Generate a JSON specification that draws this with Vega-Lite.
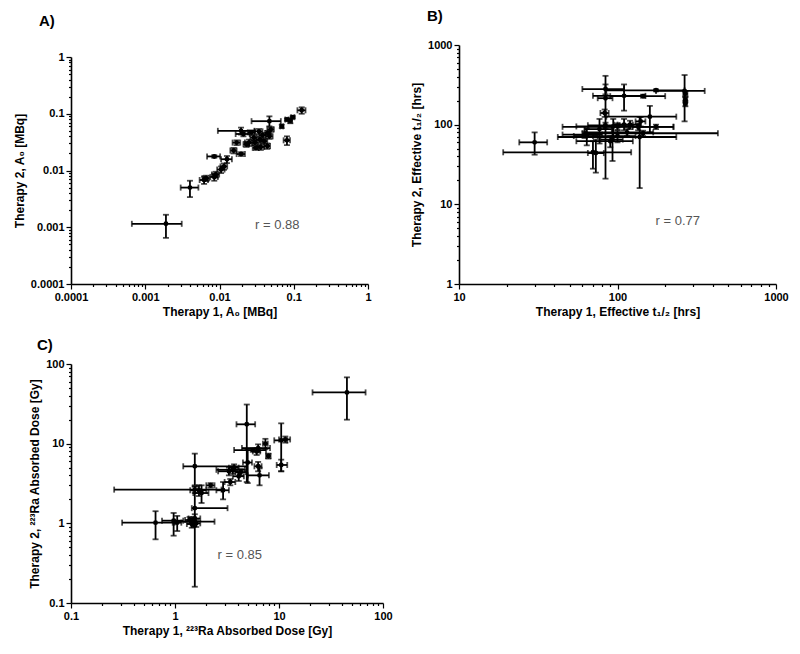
{
"$schema": "https://vega.github.io/schema/vega-lite/v6.json",
"background": "white",
"padding": {"left": 13, "top": 9, "right": 5, "bottom": 5},
"config": {
  "view": {"stroke": null},
  "font": "Liberation Sans",
  "axis": {"grid": false, "domainColor": "black", "domainWidth": 1.6, "tickColor": "black", "tickWidth": 1.2, "labelFont": "Liberation Sans", "labelFontWeight": "bold", "labelFontSize": 11, "labelColor": "black", "labelFlush": false, "labelOverlap": false, "titleFont": "Liberation Sans", "titleFontWeight": "bold", "titleFontSize": 12, "titleColor": "black", "format": "~g",
    "tickSize": {"condition": {"test": "abs(log(datum.value)/LN10 - round(log(datum.value)/LN10)) < 0.01", "value": 5}, "value": 2.5},
    "labelExpr": "abs(log(datum.value)/LN10 - round(log(datum.value)/LN10)) < 0.01 ? datum.label : ''"},
  "title": {"font": "Liberation Sans", "fontSize": 15, "fontWeight": "bold", "color": "black", "anchor": "start", "frame": "group"}
},
"datasets": {
  "A": [
    {"x":0.0019,"xlo":0.00066,"xhi":0.0031,"y":0.00115,"ylo":0.00065,"yhi":0.00166},
    {"x":0.004,"xlo":0.003,"xhi":0.0052,"y":0.005,"ylo":0.0034,"yhi":0.0066},
    {"x":0.0062,"xlo":0.0054,"xhi":0.007,"y":0.0068,"ylo":0.0058,"yhi":0.0078},
    {"x":0.0066,"xlo":0.0059,"xhi":0.0073,"y":0.0073,"ylo":0.0065,"yhi":0.0081},
    {"x":0.0085,"xlo":0.0075,"xhi":0.0095,"y":0.0077,"ylo":0.0066,"yhi":0.0088},
    {"x":0.0089,"xlo":0.0079,"xhi":0.0099,"y":0.0085,"ylo":0.0075,"yhi":0.0095},
    {"x":0.0105,"xlo":0.0093,"xhi":0.0117,"y":0.0104,"ylo":0.009,"yhi":0.0118},
    {"x":0.0115,"xlo":0.0103,"xhi":0.0127,"y":0.0118,"ylo":0.0103,"yhi":0.0133},
    {"x":0.0126,"xlo":0.0105,"xhi":0.0147,"y":0.0158,"ylo":0.0135,"yhi":0.018},
    {"x":0.0085,"xlo":0.0068,"xhi":0.0102,"y":0.0177,"ylo":0.0168,"yhi":0.0186},
    {"x":0.0155,"xlo":0.014,"xhi":0.017,"y":0.0225,"ylo":0.02,"yhi":0.025},
    {"x":0.0195,"xlo":0.017,"xhi":0.022,"y":0.0195,"ylo":0.018,"yhi":0.021},
    {"x":0.0195,"xlo":0.0095,"xhi":0.0295,"y":0.05,"ylo":0.043,"yhi":0.057},
    {"x":0.047,"xlo":0.027,"xhi":0.067,"y":0.074,"ylo":0.06,"yhi":0.09},
    {"x":0.021,"xlo":0.0165,"xhi":0.0255,"y":0.044,"ylo":0.04,"yhi":0.048},
    {"x":0.025,"xlo":0.022,"xhi":0.028,"y":0.031,"ylo":0.027,"yhi":0.035},
    {"x":0.029,"xlo":0.026,"xhi":0.032,"y":0.038,"ylo":0.034,"yhi":0.042},
    {"x":0.034,"xlo":0.03,"xhi":0.038,"y":0.049,"ylo":0.044,"yhi":0.054},
    {"x":0.036,"xlo":0.032,"xhi":0.04,"y":0.026,"ylo":0.023,"yhi":0.029},
    {"x":0.04,"xlo":0.036,"xhi":0.044,"y":0.033,"ylo":0.03,"yhi":0.036},
    {"x":0.047,"xlo":0.042,"xhi":0.052,"y":0.04,"ylo":0.036,"yhi":0.044},
    {"x":0.049,"xlo":0.044,"xhi":0.054,"y":0.053,"ylo":0.048,"yhi":0.058},
    {"x":0.031,"xlo":0.028,"xhi":0.034,"y":0.025,"ylo":0.023,"yhi":0.027},
    {"x":0.027,"xlo":0.024,"xhi":0.03,"y":0.047,"ylo":0.043,"yhi":0.051},
    {"x":0.023,"xlo":0.021,"xhi":0.025,"y":0.029,"ylo":0.026,"yhi":0.032},
    {"x":0.044,"xlo":0.04,"xhi":0.048,"y":0.027,"ylo":0.024,"yhi":0.03},
    {"x":0.035,"xlo":0.031,"xhi":0.039,"y":0.035,"ylo":0.031,"yhi":0.039},
    {"x":0.017,"xlo":0.015,"xhi":0.019,"y":0.031,"ylo":0.028,"yhi":0.034},
    {"x":0.069,"xlo":0.066,"xhi":0.072,"y":0.06,"ylo":0.056,"yhi":0.064},
    {"x":0.081,"xlo":0.073,"xhi":0.089,"y":0.034,"ylo":0.028,"yhi":0.04},
    {"x":0.081,"xlo":0.077,"xhi":0.085,"y":0.079,"ylo":0.075,"yhi":0.083},
    {"x":0.09,"xlo":0.085,"xhi":0.095,"y":0.075,"ylo":0.068,"yhi":0.082},
    {"x":0.097,"xlo":0.092,"xhi":0.102,"y":0.087,"ylo":0.083,"yhi":0.091},
    {"x":0.128,"xlo":0.112,"xhi":0.144,"y":0.115,"ylo":0.1,"yhi":0.13},
    {"x":0.045,"xlo":0.041,"xhi":0.049,"y":0.046,"ylo":0.042,"yhi":0.05},
    {"x":0.038,"xlo":0.034,"xhi":0.042,"y":0.042,"ylo":0.038,"yhi":0.046},
    {"x":0.03,"xlo":0.027,"xhi":0.033,"y":0.031,"ylo":0.028,"yhi":0.034}
  ],
  "B": [
    {"x":30,"xlo":24,"xhi":36,"y":60,"ylo":42,"yhi":80},
    {"x":70,"xlo":19,"xhi":122,"y":45,"ylo":28,"yhi":62},
    {"x":73,"xlo":65,"xhi":82,"y":44,"ylo":25,"yhi":65},
    {"x":84,"xlo":75,"xhi":93,"y":215,"ylo":21,"yhi":410},
    {"x":84,"xlo":60,"xhi":110,"y":280,"ylo":240,"yhi":320},
    {"x":110,"xlo":70,"xhi":150,"y":230,"ylo":150,"yhi":320},
    {"x":145,"xlo":90,"xhi":200,"y":228,"ylo":218,"yhi":238},
    {"x":175,"xlo":85,"xhi":265,"y":270,"ylo":262,"yhi":278},
    {"x":265,"xlo":175,"xhi":355,"y":265,"ylo":110,"yhi":420},
    {"x":268,"xlo":260,"xhi":276,"y":245,"ylo":225,"yhi":265},
    {"x":268,"xlo":262,"xhi":274,"y":205,"ylo":190,"yhi":220},
    {"x":268,"xlo":262,"xhi":274,"y":185,"ylo":170,"yhi":200},
    {"x":83,"xlo":78,"xhi":88,"y":140,"ylo":125,"yhi":155},
    {"x":160,"xlo":85,"xhi":235,"y":126,"ylo":80,"yhi":172},
    {"x":138,"xlo":42,"xhi":235,"y":70,"ylo":16,"yhi":125},
    {"x":135,"xlo":45,"xhi":226,"y":94,"ylo":85,"yhi":103},
    {"x":175,"xlo":125,"xhi":225,"y":94,"ylo":88,"yhi":100},
    {"x":94,"xlo":55,"xhi":135,"y":95,"ylo":72,"yhi":118},
    {"x":77,"xlo":62,"xhi":92,"y":88,"ylo":58,"yhi":118},
    {"x":64,"xlo":53,"xhi":75,"y":72,"ylo":55,"yhi":90},
    {"x":62,"xlo":45,"xhi":80,"y":75,"ylo":68,"yhi":82},
    {"x":110,"xlo":95,"xhi":125,"y":100,"ylo":85,"yhi":118},
    {"x":115,"xlo":62,"xhi":168,"y":80,"ylo":72,"yhi":88},
    {"x":93,"xlo":78,"xhi":108,"y":65,"ylo":35,"yhi":95},
    {"x":145,"xlo":60,"xhi":430,"y":78,"ylo":72,"yhi":84},
    {"x":90,"xlo":55,"xhi":125,"y":62,"ylo":52,"yhi":72},
    {"x":100,"xlo":82,"xhi":118,"y":95,"ylo":86,"yhi":104},
    {"x":120,"xlo":100,"xhi":140,"y":100,"ylo":88,"yhi":112},
    {"x":84,"xlo":65,"xhi":103,"y":98,"ylo":90,"yhi":106},
    {"x":140,"xlo":130,"xhi":150,"y":110,"ylo":95,"yhi":125},
    {"x":100,"xlo":70,"xhi":130,"y":72,"ylo":60,"yhi":84}
  ],
  "C": [
    {"x":45,"xlo":21,"xhi":68,"y":44,"ylo":20,"yhi":68},
    {"x":4.9,"xlo":3.9,"xhi":5.9,"y":17.5,"ylo":3.3,"yhi":31},
    {"x":10.5,"xlo":9,"xhi":12,"y":11,"ylo":4.5,"yhi":18},
    {"x":10.5,"xlo":9.5,"xhi":12,"y":5.4,"ylo":4.5,"yhi":6.3},
    {"x":11.5,"xlo":10,"xhi":12.8,"y":11.3,"ylo":10.3,"yhi":12.3},
    {"x":7.4,"xlo":7,"xhi":7.8,"y":10,"ylo":8.5,"yhi":11.5},
    {"x":6.3,"xlo":4.4,"xhi":8.2,"y":8.8,"ylo":7.8,"yhi":9.8},
    {"x":6.1,"xlo":5.6,"xhi":6.6,"y":8,"ylo":7.2,"yhi":8.8},
    {"x":7.9,"xlo":7.5,"xhi":8.3,"y":7,"ylo":6.5,"yhi":7.5},
    {"x":6.5,"xlo":5,"xhi":8,"y":4,"ylo":3,"yhi":5},
    {"x":6.3,"xlo":5.8,"xhi":6.8,"y":5.2,"ylo":4.5,"yhi":5.9},
    {"x":5.6,"xlo":3.7,"xhi":7.5,"y":8.3,"ylo":7.9,"yhi":8.7},
    {"x":1.55,"xlo":1.2,"xhi":4.9,"y":5.2,"ylo":3,"yhi":7.5},
    {"x":1.55,"xlo":1.45,"xhi":3.2,"y":1.55,"ylo":0.16,"yhi":2.9},
    {"x":1.55,"xlo":0.26,"xhi":2.8,"y":2.65,"ylo":2.4,"yhi":2.9},
    {"x":1.7,"xlo":1.4,"xhi":2,"y":2.6,"ylo":2.2,"yhi":3},
    {"x":1.8,"xlo":1.5,"xhi":2.1,"y":2.4,"ylo":1.8,"yhi":3},
    {"x":2.2,"xlo":2,"xhi":2.4,"y":3,"ylo":2.8,"yhi":3.2},
    {"x":2.9,"xlo":2.5,"xhi":3.3,"y":2.6,"ylo":2,"yhi":3.3},
    {"x":3.4,"xlo":3,"xhi":3.8,"y":3.3,"ylo":3,"yhi":3.6},
    {"x":3.3,"xlo":2.6,"xhi":4,"y":4.5,"ylo":4,"yhi":5},
    {"x":3.7,"xlo":3.3,"xhi":4.1,"y":5,"ylo":4.5,"yhi":5.5},
    {"x":4.3,"xlo":3.8,"xhi":4.8,"y":4.4,"ylo":4,"yhi":4.8},
    {"x":3.6,"xlo":2.5,"xhi":4.7,"y":4.7,"ylo":4.2,"yhi":5.2},
    {"x":4.1,"xlo":3.6,"xhi":4.6,"y":3.9,"ylo":3.4,"yhi":4.4},
    {"x":5,"xlo":4.5,"xhi":5.5,"y":5.8,"ylo":3.2,"yhi":8.4},
    {"x":0.65,"xlo":0.31,"xhi":0.99,"y":1.02,"ylo":0.63,"yhi":1.42},
    {"x":0.97,"xlo":0.75,"xhi":1.2,"y":1.08,"ylo":0.7,"yhi":1.35},
    {"x":1.05,"xlo":0.95,"xhi":1.15,"y":1.02,"ylo":0.8,"yhi":1.24},
    {"x":1.38,"xlo":1.25,"xhi":1.5,"y":1.1,"ylo":1,"yhi":1.2},
    {"x":1.5,"xlo":1,"xhi":2.4,"y":1.05,"ylo":0.9,"yhi":1.2},
    {"x":1.6,"xlo":1.45,"xhi":1.75,"y":1,"ylo":0.9,"yhi":1.1},
    {"x":1.45,"xlo":1.3,"xhi":1.6,"y":0.98,"ylo":0.88,"yhi":1.08},
    {"x":1.55,"xlo":1.35,"xhi":1.75,"y":1.15,"ylo":1,"yhi":1.3}
  ]
},
"spacing": 21,
"vconcat": [
  {
    "spacing": 38,
    "hconcat": [
      {
        "width": 297, "height": 239,
        "title": {"text": "A)", "dx": -32, "offset": 16},
        "data": {"name": "A"},
        "layer": [
          {"mark": {"type": "errorbar", "thickness": 1.8, "color": "black", "ticks": {"size": 6, "thickness": 1.8}},
           "encoding": {
             "x": {"field": "x", "type": "quantitative", "title": "Therapy 1, A₀ [MBq]", "scale": {"type": "log", "domain": [0.0001, 1], "nice": false}, "axis": {"title": "Therapy 1, A₀ [MBq]", "values": [0.0001,0.0002,0.0003,0.0004,0.0005,0.0006,0.0007,0.0008,0.0009,0.001,0.002,0.003,0.004,0.005,0.006,0.007,0.008,0.009,0.01,0.02,0.03,0.04,0.05,0.06,0.07,0.08,0.09,0.1,0.2,0.3,0.4,0.5,0.6,0.7,0.8,0.9,1]}},
             "y": {"field": "ylo", "type": "quantitative", "title": "Therapy 2, A₀ [MBq]", "scale": {"type": "log", "domain": [0.0001, 1], "nice": false, "range": [239, 12]}, "axis": {"title": "Therapy 2, A₀ [MBq]", "values": [0.0001,0.0002,0.0003,0.0004,0.0005,0.0006,0.0007,0.0008,0.0009,0.001,0.002,0.003,0.004,0.005,0.006,0.007,0.008,0.009,0.01,0.02,0.03,0.04,0.05,0.06,0.07,0.08,0.09,0.1,0.2,0.3,0.4,0.5,0.6,0.7,0.8,0.9,1]}},
             "y2": {"field": "yhi"}
           }},
          {"mark": {"type": "errorbar", "thickness": 1.8, "color": "black", "ticks": {"size": 6, "thickness": 1.8}},
           "encoding": {
             "x": {"field": "xlo", "type": "quantitative", "title": "Therapy 1, A₀ [MBq]"},
             "x2": {"field": "xhi"},
             "y": {"field": "y", "type": "quantitative", "title": "Therapy 2, A₀ [MBq]"}
           }},
          {"mark": {"type": "circle", "color": "black", "size": 24, "opacity": 1},
           "encoding": {
             "x": {"field": "x", "type": "quantitative", "title": "Therapy 1, A₀ [MBq]"},
             "y": {"field": "y", "type": "quantitative", "title": "Therapy 2, A₀ [MBq]"}
           }},
          {"data": {"values": [{"x": 0.06, "y": 0.0011, "t": "r = 0.88"}]},
           "mark": {"type": "text", "color": "#555555", "fontSize": 13, "font": "Liberation Sans"},
           "encoding": {
             "x": {"field": "x", "type": "quantitative", "title": "Therapy 1, A₀ [MBq]"},
             "y": {"field": "y", "type": "quantitative", "title": "Therapy 2, A₀ [MBq]"},
             "text": {"field": "t"}
           }}
        ]
      },
      {
        "width": 317, "height": 239,
        "title": {"text": "B)", "dx": -32, "offset": 15},
        "data": {"name": "B"},
        "layer": [
          {"mark": {"type": "errorbar", "thickness": 1.8, "color": "black", "ticks": {"size": 6, "thickness": 1.8}},
           "encoding": {
             "x": {"field": "x", "type": "quantitative", "title": "Therapy 1, Effective t₁/₂  [hrs]", "scale": {"type": "log", "domain": [10, 1000], "nice": false}, "axis": {"title": "Therapy 1, Effective t₁/₂  [hrs]", "values": [10,20,30,40,50,60,70,80,90,100,200,300,400,500,600,700,800,900,1000]}},
             "y": {"field": "ylo", "type": "quantitative", "title": "Therapy 2, Effective t₁/₂  [hrs]", "scale": {"type": "log", "domain": [1, 1000], "nice": false}, "axis": {"title": "Therapy 2, Effective t₁/₂  [hrs]", "values": [1,2,3,4,5,6,7,8,9,10,20,30,40,50,60,70,80,90,100,200,300,400,500,600,700,800,900,1000]}},
             "y2": {"field": "yhi"}
           }},
          {"mark": {"type": "errorbar", "thickness": 1.8, "color": "black", "ticks": {"size": 6, "thickness": 1.8}},
           "encoding": {
             "x": {"field": "xlo", "type": "quantitative", "title": "Therapy 1, Effective t₁/₂  [hrs]"},
             "x2": {"field": "xhi"},
             "y": {"field": "y", "type": "quantitative", "title": "Therapy 2, Effective t₁/₂  [hrs]"}
           }},
          {"mark": {"type": "circle", "color": "black", "size": 24, "opacity": 1},
           "encoding": {
             "x": {"field": "x", "type": "quantitative", "title": "Therapy 1, Effective t₁/₂  [hrs]"},
             "y": {"field": "y", "type": "quantitative", "title": "Therapy 2, Effective t₁/₂  [hrs]"}
           }},
          {"data": {"values": [{"x": 240, "y": 6.2, "t": "r = 0.77"}]},
           "mark": {"type": "text", "color": "#555555", "fontSize": 13, "font": "Liberation Sans"},
           "encoding": {
             "x": {"field": "x", "type": "quantitative", "title": "Therapy 1, Effective t₁/₂  [hrs]"},
             "y": {"field": "y", "type": "quantitative", "title": "Therapy 2, Effective t₁/₂  [hrs]"},
             "text": {"field": "t"}
           }}
        ]
      }
    ]
  },
  {
    "width": 312, "height": 239,
    "title": {"text": "C)", "dx": -34, "offset": 5},
    "data": {"name": "C"},
    "layer": [
      {"mark": {"type": "errorbar", "thickness": 1.8, "color": "black", "ticks": {"size": 6, "thickness": 1.8}},
       "encoding": {
         "x": {"field": "x", "type": "quantitative", "title": "Therapy 1, ²²³Ra Absorbed Dose [Gy]", "scale": {"type": "log", "domain": [0.1, 100], "nice": false}, "axis": {"title": "Therapy 1, ²²³Ra Absorbed Dose [Gy]", "values": [0.1,0.2,0.3,0.4,0.5,0.6,0.7,0.8,0.9,1,2,3,4,5,6,7,8,9,10,20,30,40,50,60,70,80,90,100]}},
         "y": {"field": "ylo", "type": "quantitative", "title": "Therapy 2, ²²³Ra Absorbed Dose [Gy]", "scale": {"type": "log", "domain": [0.1, 100], "nice": false}, "axis": {"title": "Therapy 2, ²²³Ra Absorbed Dose [Gy]", "values": [0.1,0.2,0.3,0.4,0.5,0.6,0.7,0.8,0.9,1,2,3,4,5,6,7,8,9,10,20,30,40,50,60,70,80,90,100]}},
         "y2": {"field": "yhi"}
       }},
      {"mark": {"type": "errorbar", "thickness": 1.8, "color": "black", "ticks": {"size": 6, "thickness": 1.8}},
       "encoding": {
         "x": {"field": "xlo", "type": "quantitative", "title": "Therapy 1, ²²³Ra Absorbed Dose [Gy]"},
         "x2": {"field": "xhi"},
         "y": {"field": "y", "type": "quantitative", "title": "Therapy 2, ²²³Ra Absorbed Dose [Gy]"}
       }},
      {"mark": {"type": "circle", "color": "black", "size": 24, "opacity": 1},
       "encoding": {
         "x": {"field": "x", "type": "quantitative", "title": "Therapy 1, ²²³Ra Absorbed Dose [Gy]"},
         "y": {"field": "y", "type": "quantitative", "title": "Therapy 2, ²²³Ra Absorbed Dose [Gy]"}
       }},
      {"data": {"values": [{"x": 4.2, "y": 0.4, "t": "r = 0.85"}]},
       "mark": {"type": "text", "color": "#555555", "fontSize": 13, "font": "Liberation Sans"},
       "encoding": {
         "x": {"field": "x", "type": "quantitative", "title": "Therapy 1, ²²³Ra Absorbed Dose [Gy]"},
         "y": {"field": "y", "type": "quantitative", "title": "Therapy 2, ²²³Ra Absorbed Dose [Gy]"},
         "text": {"field": "t"}
       }}
    ]
  }
]
}
